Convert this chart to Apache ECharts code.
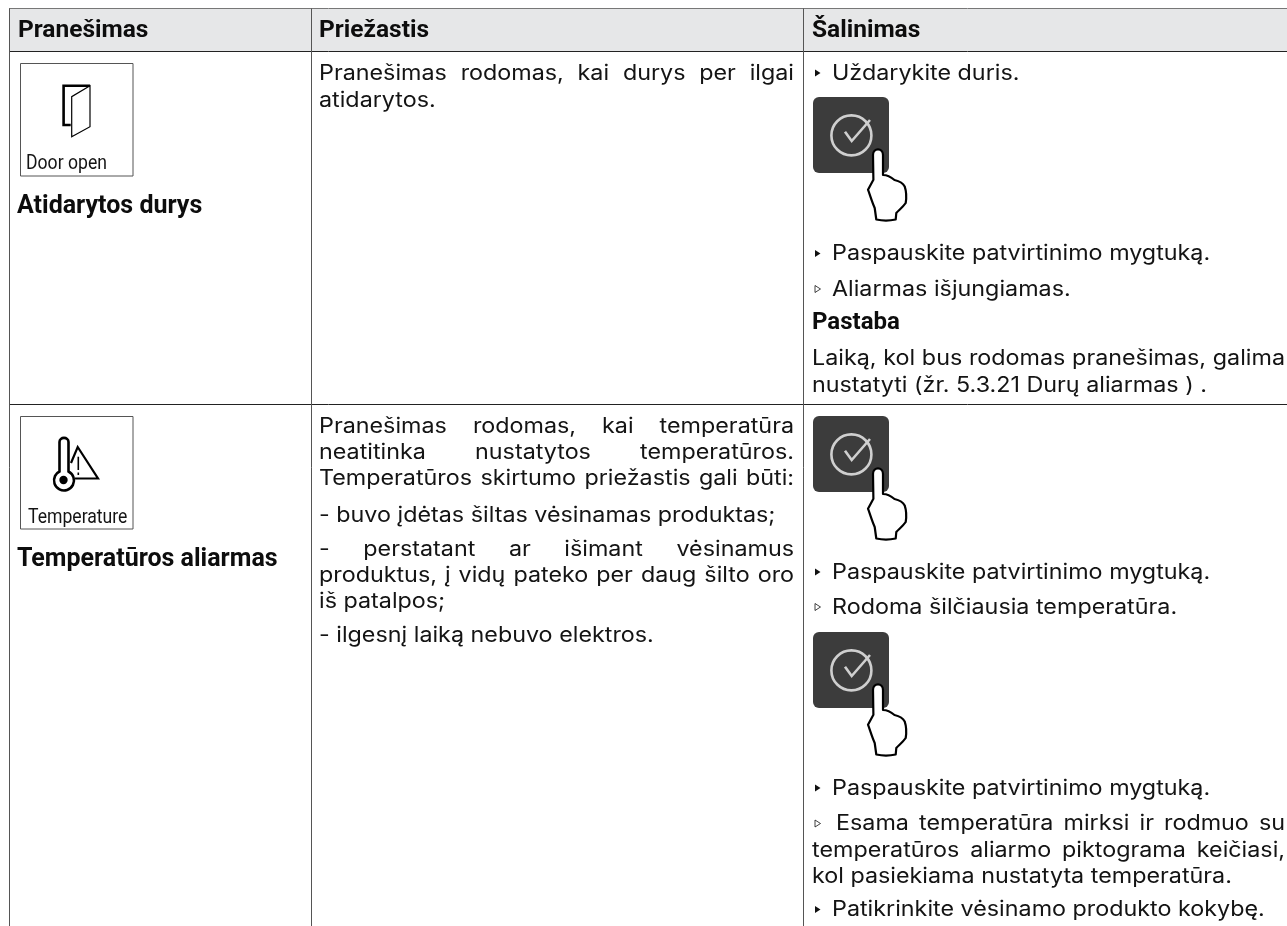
<!DOCTYPE html>
<html><head><meta charset="utf-8">
<style>html,body{margin:0;padding:0;background:#fff}#c{width:1287px;height:926px}</style>
<script src="https://cdn.jsdelivr.net/npm/echarts@6/dist/echarts.min.js"></script>
</head><body><div id="c"></div>
<script>
const headers = ["Pranešimas", "Priežastis", "Šalinimas"];
const messageTitles = ["Atidarytos durys", "Temperatūros aliarmas"];
const iconLabels = ["Door open", "Temperature"];
const causeRow1 = ["Pranešimas rodomas, kai durys per ilgai", "atidarytos."];
const causeRow2 = ["Pranešimas rodomas, kai temperatūra", "neatitinka nustatytos temperatūros.", "Temperatūros skirtumo priežastis gali būti:", "- buvo įdėtas šiltas vėsinamas produktas;", "- perstatant ar išimant vėsinamus", "produktus, į vidų pateko per daug šilto oro", "iš patalpos;", "- ilgesnį laiką nebuvo elektros."];
const fixRow1 = ["Uždarykite duris.", "Paspauskite patvirtinimo mygtuką.", "Aliarmas išjungiamas.", "Pastaba", "Laiką, kol bus rodomas pranešimas, galima", "nustatyti (žr. 5.3.21 Durų aliarmas ) ."];
const fixRow2 = ["Paspauskite patvirtinimo mygtuką.", "Rodoma šilčiausia temperatūra.", "Paspauskite patvirtinimo mygtuką.", "Esama temperatūra mirksi ir rodmuo su", "temperatūros aliarmo piktograma keičiasi,", "kol pasiekiama nustatyta temperatūra.", "Patikrinkite vėsinamo produkto kokybę."];

const BODY = 'Inter', HEAD = 'Roboto', SIZE = 21, STRETCH = 1.11, INK = '#141414', LINE = '#3a3a3a';
const X = {left: 9, c2: 311, c3: 803, t1: 17, t2: 319, r2: 794, t3: 832, n3: 812, r3: 1285};
const els = [];
const ctx = document.createElement('canvas').getContext('2d');
function width(s, font){ctx.font = font; return ctx.measureText(s).width * STRETCH;}
function txt(s, x, y, o = {}){
  els.push({type:'text', x, y:y + (o.family ? 2 : 1.5), z:5, scaleX:o.scaleX||(o.family ? 1 : STRETCH), style:{text:s, x:0, y:0, fill:o.fill||INK,
    font:`${o.weight||400} ${o.size||SIZE}px ${o.family||BODY}`, verticalAlign:'middle', align:'left'}});
}
function just(s, x, right, y){
  const font = `400 ${SIZE}px ${BODY}`, w = s.split(' ');
  const total = w.reduce((a, b) => a + width(b, font), 0);
  const gap = (right - x - total) / (w.length - 1);
  let cx = x;
  w.forEach(p => {txt(p, cx, y); cx += width(p, font) + gap;});
}
function line(x1, y1, x2, y2, c = LINE, lw = 1){
  els.push({type:'line', z:3, shape:{x1, y1, x2, y2}, style:{stroke:c, lineWidth:lw}});
}
function bullet(x, y, filled){
  els.push({type:'polygon', z:4, shape:{points:[[x, y-3.5],[x+5.5, y],[x, y+3.5]]},
    style:{fill:filled ? '#111' : '#fff', stroke:'#111', lineWidth:filled ? 0 : 0.8}});
}
echarts.graphic.registerShape('handShape', echarts.graphic.extendPath('M60 58 C60 50.5 70 50.5 70 58 L70 78 C74 78 78 80 81.5 83 C86 84 90 86 91.7 89.4 C93.5 95 93.5 101 92.7 106 C90 110 86 113 83.3 116 L82.7 122.5 C76 124 70 124 63.3 122.5 L61.7 111 C59 105 57 98 55 92.7 L60.4 82.7 Z'));
echarts.graphic.registerShape('thermoShape', echarts.graphic.extendPath('M59.5 471.5 L59.5 442 C59.5 436.5 68.5 436.5 68.5 442 L68.5 471.5 A10 10 0 1 1 59.5 471.5 Z'));
function button(x, y){
  els.push({type:'rect', z:4, shape:{x, y, width:76, height:76, r:6}, style:{fill:'#3c3c3c'}});
  els.push({type:'circle', z:5, shape:{cx:x+38.4, cy:y+38.4, r:20}, style:{fill:'none', stroke:'#cfcfcf', lineWidth:2.6}});
  els.push({type:'polyline', z:5, shape:{points:[[x+32,y+34.7],[x+38.7,y+44],[x+57,y+23]]}, style:{fill:'none', stroke:'#cfcfcf', lineWidth:2.6}});
  els.push({type:'handShape', z:6, x, y, style:{fill:'#fff', stroke:'#000', lineWidth:2.2, lineJoin:'round'}});
  line(x+60.5, y+83, x+60, y+92, '#000', 1.2);
}
function iconBox(y){
  els.push({type:'rect', z:3, shape:{x:20.5, y:y+.5, width:112.5, height:112.5}, style:{fill:'#fff', stroke:'#555', lineWidth:1}});
}

// Table frame
els.push({type:'rect', z:1, shape:{x:X.left, y:9, width:1287-X.left, height:42}, style:{fill:'#e6e7e8'}});
line(X.left, 8.5, 1287, 8.5, '#777', 1);
line(X.left, 51.5, 1287, 51.5, '#222', 1);
line(X.left, 404.5, 1287, 404.5, '#222', 1);
[X.left, X.c2, X.c3].forEach(v => line(v+.5, 8.5, v+.5, 926, '#555', 1));

// Headers
const HDR = {weight:700, family:HEAD, size:24.5, fill:'#0d0d0d'};
txt(headers[0], 18, 29, HDR); txt(headers[1], X.t2, 29, HDR); txt(headers[2], X.n3, 29, HDR);

// First column
iconBox(63);
els.push({type:'polyline', z:4, shape:{points:[[90,85.7],[63.6,85.7],[63.6,125],[70.7,125]]}, style:{fill:'none', stroke:'#000', lineWidth:2.6}});
els.push({type:'polygon', z:4, shape:{points:[[90,85.7],[71.7,96.7],[71.7,136.7],[90,126.7]]}, style:{fill:'#fff', stroke:'#000', lineWidth:1.2}});
line(74.5, 106.7, 74.5, 116.7, '#000', 1);
txt(iconLabels[0], 26, 161.5, {family:HEAD, size:20, scaleX:.88});
txt(messageTitles[0], 17, 204.5, {weight:700, family:HEAD, size:25, fill:'#0d0d0d'});

iconBox(416);
els.push({type:'thermoShape', z:4, style:{fill:'#fff', stroke:'#000', lineWidth:2.6}});
els.push({type:'circle', z:5, shape:{cx:63.5, cy:480, r:4.2}, style:{fill:'#000'}});
els.push({type:'polyline', z:4, shape:{points:[[71,463],[77.7,447],[98,478.5],[75,478.5]]}, style:{fill:'none', stroke:'#000', lineWidth:2.2}});
line(78.3, 456.7, 78.3, 470, '#000', 1.6);
line(78.3, 472.5, 78.3, 475, '#000', 1.6);
txt(iconLabels[1], 28, 515.5, {family:HEAD, size:20, scaleX:.88});
txt(messageTitles[1], 17, 557.5, {weight:700, family:HEAD, size:25, fill:'#0d0d0d'});

// Second column
just(causeRow1[0], X.t2, X.r2, 72); txt(causeRow1[1], X.t2, 99);
just(causeRow2[0], X.t2, X.r2, 425); just(causeRow2[1], X.t2, X.r2, 451.5); just(causeRow2[2], X.t2, X.r2, 477.5);
txt(causeRow2[3], X.t2, 514);
just(causeRow2[4], X.t2, X.r2, 548); just(causeRow2[5], X.t2, X.r2, 574.5); txt(causeRow2[6], X.t2, 600.5);
txt(causeRow2[7], X.t2, 634);

// Third column
function item(s, y, filled){bullet(815, y+1, filled); txt(s, X.t3, y);}
item(fixRow1[0], 72, true);
button(813, 97);
item(fixRow1[1], 252.5, true);
item(fixRow1[2], 288, false);
txt(fixRow1[3], X.n3, 321, {weight:700, family:HEAD, size:24, fill:'#0d0d0d'});
just(fixRow1[4], X.n3, X.r3, 357.5); txt(fixRow1[5], X.n3, 384);
button(813, 416);
item(fixRow2[0], 571, true);
item(fixRow2[1], 606, false);
button(813, 632);
item(fixRow2[2], 787, true);
bullet(815, 823.5, false); just(fixRow2[3], 836, X.r3, 822.5);
just(fixRow2[4], X.n3, X.r3, 849); txt(fixRow2[5], X.n3, 875.5);
item(fixRow2[6], 908.5, true);

const chart = echarts.init(document.getElementById('c'), null, {renderer:'canvas', width:1287, height:926});
chart.setOption({animation:false, backgroundColor:'#fff', graphic:{elements:els}});
</script></body></html>
